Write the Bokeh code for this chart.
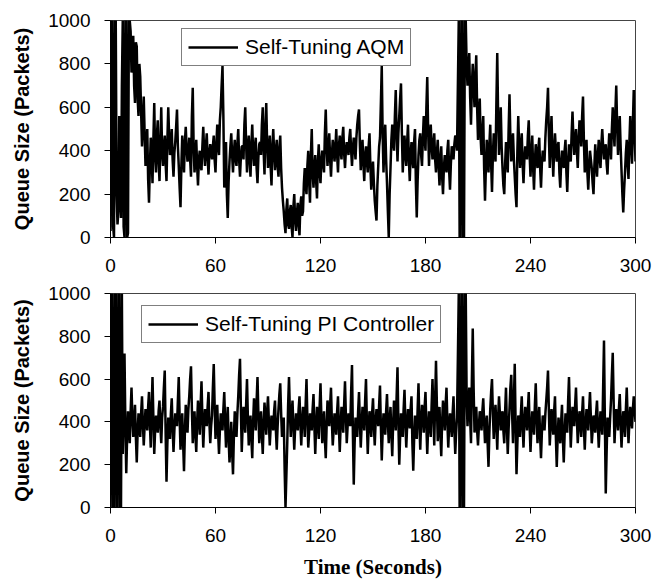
from bokeh.plotting import figure
from bokeh.layouts import column
from bokeh.models import Range1d, FixedTicker, Legend, LegendItem
from bokeh.embed import file_html
from bokeh.resources import INLINE

# ---- data (queue size in packets) ----
# values read at whole seconds 0..300
aqm_queue = [
    30, 1000, 0, 1000, 60, 560, 90, 1000, 0, 1000,
    20, 1000, 760, 930, 620, 880, 560, 740, 420, 650,
    330, 500, 160, 460, 250, 620, 300, 540, 260, 600,
    330, 470, 260, 600, 380, 500, 280, 440, 590, 330,
    140, 470, 300, 510, 350, 460, 280, 690, 300, 450,
    240, 400, 310, 510, 330, 480, 290, 430, 360, 470,
    300, 520, 380, 600, 790, 230, 440, 90, 350, 480,
    300, 450, 330, 500, 280, 420, 360, 600, 300, 470,
    280, 520, 330, 460, 250, 430, 380, 600, 290, 620,
    320, 470, 240, 500, 310, 450, 280, 470, 230, 120,
    20, 180, 40, 150, 0, 200, 30, 160, 10, 190,
    120, 320, 200, 400, 160, 500, 230, 380, 180, 430,
    250, 400, 300, 590, 330, 480, 280, 450, 350, 500,
    300, 470, 360, 510, 320, 440, 380, 500, 330, 460,
    360, 520, 590, 310, 450, 260, 420, 300, 480, 220,
    350, 170, 78, 330, 460, 790, 300, 520, 250, 0,
    320, 520, 400, 680, 350, 560, 710, 300, 470, 330,
    520, 260, 440, 320, 500, 92, 380, 480, 330, 560,
    400, 740, 330, 520, 360, 480, 300, 450, 240, 420,
    200, 380, 300, 450, 220, 420, 360, 470, 400, 1000,
    0, 1000, 0, 1000, 700, 850, 520, 800, 600, 840,
    450, 640, 380, 560, 170, 450, 300, 520, 210, 480,
    350, 850, 380, 600, 320, 200, 440, 300, 660, 350,
    480, 280, 140, 560, 320, 480, 250, 420, 360, 540,
    280, 470, 220, 430, 320, 460, 230, 400, 350, 540,
    690, 320, 560, 280, 480, 350, 440, 230, 400, 320,
    450, 210, 430, 350, 580, 380, 500, 320, 540, 420,
    650, 300, 450, 220, 400, 320, 200, 430, 280, 450,
    320, 500, 360, 430, 290, 480, 360, 600, 420, 700,
    380, 560, 310, 115, 300, 450, 270, 560, 340, 680,
    350,
]
# values read at half seconds 0.5..299.5
aqm_queue_half = [
    1000, 50, 1000, 200, 120, 300, 700, 50, 1000, 0,
    1000, 950, 820, 700, 900, 640, 800, 580, 520, 480,
    420, 270, 330, 380, 450, 380, 470, 350, 430, 390,
    420, 340, 450, 470, 420, 360, 390, 510, 420, 230,
    330, 380, 440, 410, 380, 360, 560, 420, 360, 330,
    360, 330, 420, 400, 420, 370, 390, 390, 420, 360,
    430, 420, 540, 700, 560, 350, 200, 260, 420, 380,
    390, 360, 430, 360, 370, 420, 520, 430, 400, 360,
    430, 390, 420, 320, 370, 440, 520, 400, 500, 430,
    400, 330, 420, 390, 400, 330, 410, 320, 170, 60,
    130, 60, 120, 50, 140, 80, 110, 60, 150, 100,
    250, 240, 330, 260, 380, 300, 320, 260, 350, 300,
    360, 340, 480, 420, 420, 360, 380, 420, 410, 380,
    420, 400, 460, 390, 400, 420, 460, 400, 410, 420,
    460, 560, 430, 400, 340, 380, 350, 420, 330, 300,
    250, 120, 240, 420, 620, 480, 440, 360, 120, 200,
    450, 440, 560, 480, 480, 640, 480, 400, 380, 440,
    360, 380, 360, 440, 250, 260, 450, 380, 460, 460,
    600, 500, 450, 420, 430, 360, 390, 330, 360, 280,
    320, 340, 400, 310, 340, 400, 430, 460, 700, 0,
    1000, 0, 1000, 800, 780, 650, 700, 700, 740, 600,
    560, 460, 480, 320, 320, 380, 430, 340, 380, 400,
    620, 560, 500, 420, 240, 340, 360, 500, 460, 420,
    360, 200, 400, 420, 420, 340, 360, 400, 470, 380,
    380, 320, 350, 360, 410, 320, 340, 380, 460, 600,
    470, 460, 400, 400, 400, 420, 300, 340, 350, 400,
    300, 340, 400, 480, 460, 450, 400, 450, 500, 560,
    450, 400, 300, 320, 360, 250, 330, 340, 380, 370,
    430, 420, 400, 340, 400, 440, 500, 500, 580, 520,
    480, 420, 200, 220, 390, 340, 440, 430, 530, 480,
]

pi_queue = [
    0, 1000, 0, 1000, 0, 1000, 0, 250, 720, 160,
    450, 300, 560, 330, 480, 210, 440, 330, 520, 290,
    460, 360, 540, 280, 610, 250, 430, 350, 500, 300,
    470, 640, 120, 420, 320, 510, 260, 440, 380, 610,
    270, 440, 170, 480, 350, 520, 660, 300, 450, 260,
    500, 340, 590, 280, 460, 380, 540, 300, 430, 670,
    320, 480, 250, 440, 360, 540, 280, 470, 210, 400,
    155, 450, 330, 520, 695, 260, 470, 350, 600, 290,
    430, 230, 510, 360, 610, 300, 450, 250, 490, 340,
    520, 290, 430, 360, 500, 270, 460, 580, 330, 420,
    0, 300, 610, 330, 500, 270, 440, 360, 520, 290,
    470, 330, 600, 280, 440, 360, 530, 250, 470, 320,
    580, 300, 450, 230, 500, 380, 560, 290, 440, 340,
    520, 260, 470, 350, 590, 300, 440, 380, 666, 107,
    420, 330, 540, 280, 470, 360, 600, 250, 450, 330,
    510, 290, 460, 380, 570, 220, 440, 340, 530, 300,
    470, 240, 500, 360, 655, 200, 440, 330, 550, 280,
    460, 370, 520, 172, 430, 320, 580, 270, 480, 350,
    540, 250, 450, 330, 600, 290, 686, 310, 470, 240,
    500, 360, 560, 280, 440, 330, 520, 250, 420, 1000,
    0, 1000, 0, 1000, 380, 560, 300, 836, 350, 470,
    290, 450, 360, 510, 300, 430, 190, 460, 600, 320,
    480, 270, 520, 360, 450, 300, 560, 250, 460, 620,
    300, 672, 155, 430, 330, 520, 280, 470, 360, 540,
    260, 450, 340, 580, 300, 470, 230, 430, 360, 500,
    640, 290, 460, 340, 520, 189, 420, 300, 480, 210,
    440, 350, 610, 280, 470, 380, 560, 300, 450, 330,
    520, 270, 460, 360, 540, 300, 430, 350, 500, 280,
    450, 340, 780, 65, 420, 330, 500, 723, 300, 460,
    360, 530, 280, 450, 330, 560, 300, 470, 370, 520,
    400,
]
pi_queue_half = [
    1000, 0, 1000, 0, 1000, 0, 1000, 480, 380, 330,
    380, 450, 420, 400, 330, 350, 380, 440, 390, 380,
    400, 470, 390, 460, 420, 360, 400, 450, 380, 420,
    560, 350, 300, 380, 440, 370, 360, 420, 500, 420,
    370, 300, 350, 420, 460, 600, 460, 380, 340, 400,
    420, 480, 420, 380, 420, 470, 400, 380, 560, 480,
    420, 350, 360, 420, 460, 400, 390, 320, 300, 260,
    330, 380, 440, 620, 460, 380, 420, 480, 420, 380,
    320, 400, 430, 500, 440, 380, 340, 390, 420, 450,
    400, 370, 400, 450, 360, 380, 530, 440, 380, 180,
    150, 480, 450, 430, 380, 370, 400, 460, 390, 400,
    420, 480, 420, 350, 400, 460, 380, 380, 400, 470,
    420, 380, 320, 380, 460, 480, 400, 360, 400, 450,
    380, 380, 420, 480, 430, 380, 420, 540, 350, 300,
    380, 450, 400, 380, 420, 500, 400, 370, 400, 440,
    380, 400, 430, 480, 380, 350, 400, 450, 400, 400,
    340, 390, 450, 520, 400, 330, 400, 460, 400, 380,
    430, 460, 300, 320, 380, 460, 400, 400, 440, 470,
    380, 370, 400, 480, 440, 500, 480, 400, 340, 400,
    440, 480, 400, 380, 400, 440, 360, 350, 700, 0,
    1000, 0, 1000, 520, 480, 420, 600, 560, 420, 360,
    380, 420, 450, 400, 380, 300, 350, 540, 440, 420,
    380, 420, 440, 420, 360, 450, 380, 370, 560, 440,
    500, 380, 300, 400, 440, 380, 400, 420, 460, 380,
    370, 400, 480, 420, 400, 330, 350, 400, 440, 560,
    450, 380, 400, 450, 330, 320, 360, 400, 320, 340,
    400, 500, 430, 380, 440, 480, 420, 380, 400, 440,
    380, 380, 420, 460, 420, 360, 400, 440, 380, 380,
    400, 560, 400, 260, 380, 420, 620, 500, 400, 420,
    460, 400, 380, 400, 460, 420, 400, 420, 460, 460,
]

x_ticks = [0, 60, 120, 180, 240, 300]
y_ticks = [0, 200, 400, 600, 800, 1000]
labels = ["Self-Tuning AQM", "Self-Tuning PI Controller"]


def merge(whole, half):
    t, q = [], []
    for i, v in enumerate(whole):
        t.append(i)
        q.append(v)
        if i < len(half):
            t.append(i + 0.5)
            q.append(half[i])
    return t, q


FONT = "Liberation Sans"


def make_panel(t, q, label, frame_h, top, bottom, legend_xy, show_xlabel):
    p = figure(
        frame_width=525, frame_height=frame_h,
        min_border_left=110, min_border_right=18,
        min_border_top=top, min_border_bottom=bottom,
        x_range=Range1d(0, 300), y_range=Range1d(0, 1000),
        output_backend="svg", toolbar_location=None,
    )
    r = p.line(t, q, line_color="black", line_width=2.5)
    p.grid.visible = False
    p.outline_line_color = "#444444"
    p.outline_line_width = 1
    p.background_fill_color = "white"
    p.border_fill_color = "white"

    for ax in (p.xaxis[0], p.yaxis[0]):
        ax.axis_line_color = "black"
        ax.axis_line_width = 1
        ax.major_tick_line_color = "black"
        ax.major_tick_out = 6
        ax.major_tick_in = 0
        ax.minor_tick_line_color = None
        ax.major_label_text_font = FONT
        ax.major_label_text_font_size = "19px"
        ax.major_label_text_color = "black"

    p.xaxis.ticker = FixedTicker(ticks=x_ticks)
    p.yaxis.ticker = FixedTicker(ticks=y_ticks)
    p.xaxis.major_label_standoff = 15
    p.yaxis.major_label_standoff = 14

    p.yaxis.axis_label = "Queue Size (Packets)"
    p.yaxis.axis_label_text_font = FONT
    p.yaxis.axis_label_text_font_style = "bold"
    p.yaxis.axis_label_text_font_size = "20px"
    p.yaxis.axis_label_text_color = "black"
    p.yaxis.axis_label_standoff = 12

    if show_xlabel:
        p.xaxis.axis_label = "Time (Seconds)"
        p.xaxis.axis_label_text_font = "Liberation Serif"
        p.xaxis.axis_label_text_font_style = "bold"
        p.xaxis.axis_label_text_font_size = "21px"
        p.xaxis.axis_label_text_color = "black"
        p.xaxis.axis_label_standoff = 10

    legend = Legend(
        items=[LegendItem(label=label, renderers=[r])],
        location=legend_xy,
        label_text_font=FONT,
        label_text_font_size="21px",
        label_text_color="black",
        glyph_width=50, glyph_height=22,
        label_standoff=7,
        padding=6, margin=0, spacing=0,
        border_line_color="black", border_line_width=1,
        background_fill_color="white", background_fill_alpha=1.0,
    )
    p.add_layout(legend, "center")
    return p


aqm_t, aqm_q = merge(aqm_queue, aqm_queue_half)
pi_t, pi_q = merge(pi_queue, pi_queue_half)

top_panel = make_panel(aqm_t, aqm_q, labels[0], 217, 20, 38, (71, 171), False)
bottom_panel = make_panel(pi_t, pi_q, labels[1], 214, 18, 69, (31, 164), True)

layout = column(top_panel, bottom_panel, spacing=0)

open("out.html", "w").write(file_html(layout, INLINE))
